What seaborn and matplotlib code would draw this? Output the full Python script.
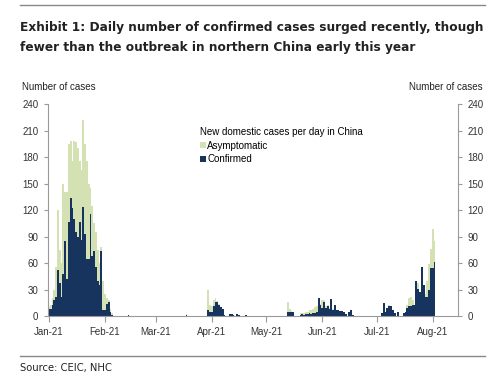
import pandas as pd
import numpy as np
import matplotlib
matplotlib.use("Agg")
import matplotlib.pyplot as plt
import matplotlib.dates as mdates
from matplotlib.patches import Patch
from matplotlib.lines import Line2D
import seaborn as sns

# Daily new domestic cases in China, days not listed are zero
days = [
    "2021-01-01", "2021-01-02", "2021-01-03", "2021-01-04", "2021-01-05", "2021-01-06",
    "2021-01-07", "2021-01-08", "2021-01-09", "2021-01-10", "2021-01-11", "2021-01-12",
    "2021-01-13", "2021-01-14", "2021-01-15", "2021-01-16", "2021-01-17", "2021-01-18",
    "2021-01-19", "2021-01-20", "2021-01-21", "2021-01-22", "2021-01-23", "2021-01-24",
    "2021-01-25", "2021-01-26", "2021-01-27", "2021-01-28", "2021-01-29", "2021-01-30",
    "2021-01-31", "2021-02-01", "2021-02-02", "2021-02-03", "2021-02-04", "2021-02-05",
    "2021-02-14", "2021-03-18",
    "2021-03-30", "2021-03-31", "2021-04-01", "2021-04-02", "2021-04-03", "2021-04-04",
    "2021-04-05", "2021-04-06", "2021-04-07", "2021-04-08", "2021-04-11", "2021-04-12",
    "2021-04-13", "2021-04-15", "2021-04-16", "2021-04-20",
    "2021-05-13", "2021-05-14", "2021-05-15", "2021-05-16", "2021-05-20", "2021-05-21",
    "2021-05-22", "2021-05-23", "2021-05-24", "2021-05-25", "2021-05-26", "2021-05-27",
    "2021-05-28", "2021-05-29", "2021-05-30", "2021-05-31",
    "2021-06-01", "2021-06-02", "2021-06-03", "2021-06-04", "2021-06-05", "2021-06-06",
    "2021-06-07", "2021-06-08", "2021-06-09", "2021-06-10", "2021-06-11", "2021-06-12",
    "2021-06-13", "2021-06-14", "2021-06-16", "2021-06-17", "2021-06-18",
    "2021-07-04", "2021-07-05", "2021-07-06", "2021-07-07", "2021-07-08", "2021-07-09",
    "2021-07-10", "2021-07-11", "2021-07-13", "2021-07-16", "2021-07-17", "2021-07-18",
    "2021-07-19", "2021-07-20", "2021-07-21", "2021-07-22", "2021-07-23", "2021-07-24",
    "2021-07-25", "2021-07-26", "2021-07-27", "2021-07-28", "2021-07-29", "2021-07-30",
    "2021-07-31", "2021-08-01", "2021-08-02",
]
confirmed = [
    8, 8, 12, 18, 22, 52,
    37, 22, 48, 85, 42, 106,
    134, 122, 110, 95, 89, 106,
    86, 124, 93, 65, 65, 115,
    68, 74, 55, 40, 35, 74,
    7, 7, 14, 16, 5, 1,
    1, 1,
    7, 5, 5, 11, 16, 16,
    13, 10, 8, 1, 2, 2,
    1, 2, 1, 1,
    4, 5, 5, 4, 1, 2,
    1, 2, 2, 3, 2, 3,
    3, 5, 20, 12,
    9, 16, 9, 11, 8, 19,
    7, 12, 7, 7, 6, 6,
    4, 2, 5, 7, 1,
    3, 15, 5, 9, 11, 11,
    7, 3, 5, 3, 5, 9,
    11, 11, 12, 12, 40, 31,
    27, 55, 35, 22, 22, 30,
    54, 54, 61,
]
asymptomatic = [
    2, 4, 8, 12, 33, 68,
    38, 38, 102, 55, 98, 89,
    64, 53, 88, 102, 101, 69,
    79, 98, 102, 110, 85, 30,
    57, 31, 40, 35, 25, 4,
    33, 18, 6, 2, 3, 2,
    0, 1,
    23, 7, 6, 7, 4, 1,
    1, 0, 0, 0, 0, 0,
    0, 0, 0, 0,
    12, 3, 1, 0, 2, 1,
    2, 3, 2, 4, 5, 5,
    7, 6, 0, 2,
    9, 2, 2, 1, 1, 0,
    1, 0, 0, 0, 0, 0,
    0, 0, 0, 0, 0,
    0, 0, 0, 0, 1, 0,
    0, 0, 0, 0, 0, 3,
    9, 11, 6, 0, 0, 6,
    0, 0, 0, 3, 18, 29,
    22, 44, 24,
]
series_names = ["Asymptomatic", "Confirmed"]
y_ticks = [0, 30, 60, 90, 120, 150, 180, 210, 240]

df = pd.DataFrame({
    "date": pd.to_datetime(days * 2),
    "type": [series_names[0]] * len(days) + [series_names[1]] * len(days),
    "cases": asymptomatic + confirmed,
})

navy = "#17345e"
green = "#d4e2b3"
grey = "#9a9a9a"
txt = "#222222"

plt.rcParams["font.family"] = ["Liberation Sans", "DejaVu Sans"]

fig = plt.figure(figsize=(5, 3.84), dpi=100)
ax = fig.add_axes([0.096, 0.177, 0.82, 0.552])

sns.histplot(data=df, x="date", weights="cases", hue="type", hue_order=series_names,
             multiple="stack", discrete=True, shrink=1, linewidth=0, alpha=1,
             palette={series_names[0]: green, series_names[1]: navy},
             legend=False, ax=ax)

ax.set_xlim(pd.Timestamp("2020-12-31 12:00"), pd.Timestamp("2021-08-15"))
ax.set_ylim(0, 240)
ax.set_yticks(y_ticks)
ax.xaxis.set_major_locator(mdates.MonthLocator())
ax.xaxis.set_major_formatter(mdates.DateFormatter("%b-%y"))
ax.set_xlabel("")
ax.set_ylabel("")

for s in ["left", "right", "bottom"]:
    ax.spines[s].set_color(grey)
    ax.spines[s].set_linewidth(0.8)
ax.spines["top"].set_visible(False)
ax.yaxis.set_ticks_position("both")
ax.tick_params(axis="y", labelright=True, length=3, width=0.8, color=grey,
               labelsize=7, labelcolor="#333333", pad=4)
ax.tick_params(axis="x", length=4, width=0.8, color=grey, labelsize=7,
               labelcolor="#333333", pad=4)

handles = [Patch(facecolor=green, edgecolor="none"), Patch(facecolor=navy, edgecolor="none")]
leg = ax.legend(handles, series_names, title="New domestic cases per day in China",
                loc="upper left", bbox_to_anchor=(0.37, 0.89), frameon=False,
                fontsize=7, title_fontsize=7, alignment="left",
                handlelength=0.6, handleheight=0.6, handletextpad=0.2,
                labelspacing=0.35, borderpad=0, borderaxespad=0)

# header / footer
title_kw = dict(fontsize=9.7, fontweight="bold", family="DejaVu Sans",
                fontstretch="condensed", color=txt, va="baseline")
fig.add_artist(Line2D([20 / 500, 485 / 500], [1 - 5 / 384] * 2, color="#888888", lw=1))
fig.text(20 / 500, 1 - 31 / 384,
         "Exhibit 1: Daily number of confirmed cases surged recently, though", **title_kw)
fig.text(20 / 500, 1 - 51 / 384,
         "fewer than the outbreak in northern China early this year", **title_kw)
fig.text(22 / 500, 1 - 87 / 384, "Number of cases", fontsize=7, color=txt, va="center")
fig.text(483 / 500, 1 - 87 / 384, "Number of cases", fontsize=7, color=txt,
         va="center", ha="right")
fig.add_artist(Line2D([20 / 500, 485 / 500], [1 - 356 / 384] * 2, color="#888888", lw=1))
fig.text(20 / 500, 1 - 368 / 384, "Source: CEIC, NHC", fontsize=8, family="DejaVu Sans",
         fontstretch="condensed", color=txt, va="center")

fig.savefig("out.png", dpi=100)
